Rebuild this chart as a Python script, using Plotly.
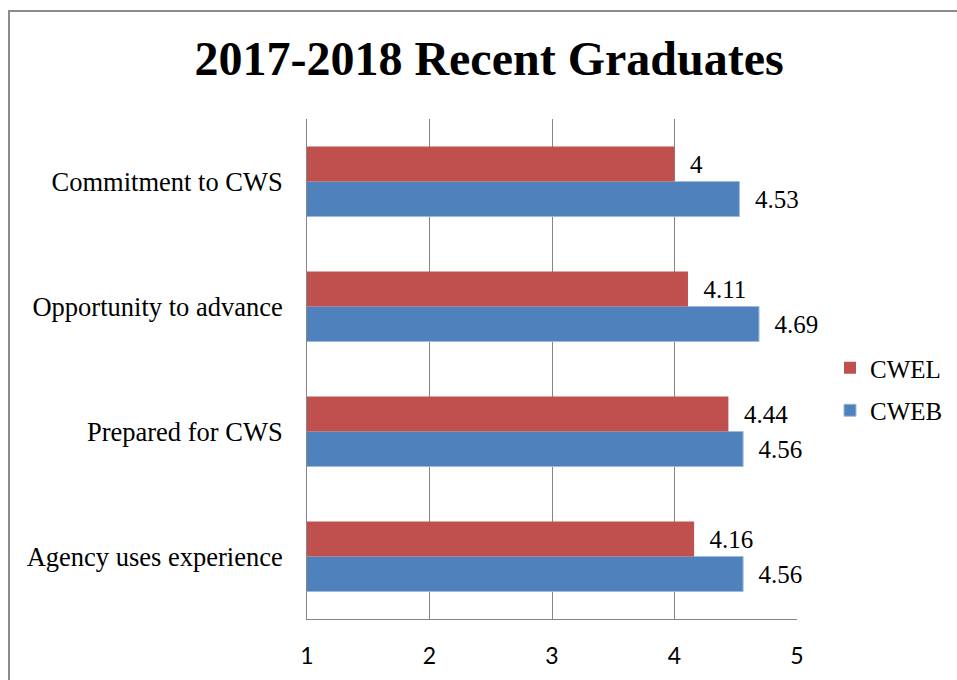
import plotly.graph_objects as go

categories = ["Agency uses experience", "Prepared for CWS", "Opportunity to advance", "Commitment to CWS"]
cweb = [4.56, 4.56, 4.69, 4.53]
cwel = [4.16, 4.44, 4.11, 4.0]
x_ticks = [1, 2, 3, 4, 5]

RED = "#C0504D"
BLUE = "#4F81BD"
SERIF = "Liberation Serif, Times New Roman, serif"

W, H = 957, 680
ML, MR, MT, MB = 307, 160, 119, 61
pw = W - ML - MR
ph = H - MT - MB

fig = go.Figure()
fig.add_trace(go.Bar(
    name="CWEB", y=categories, x=cweb, orientation="h",
    marker=dict(color=BLUE, line=dict(color="#9DB9DE", width=1)),
    texttemplate="\u00a0\u00a0%{x}", textposition="outside", cliponaxis=False,
    textfont=dict(family=SERIF, size=25, color="#000000"),
    legendgroup="b", legendrank=2,
))
fig.add_trace(go.Bar(
    name="CWEL", y=categories, x=cwel, orientation="h",
    marker=dict(color=RED, line=dict(width=0)),
    texttemplate="\u00a0\u00a0%{x}", textposition="outside", cliponaxis=False,
    textfont=dict(family=SERIF, size=25, color="#000000"),
    legendgroup="a", legendrank=1,
))

fig.update_layout(
    width=W, height=H,
    margin=dict(l=ML, r=MR, t=MT, b=MB, autoexpand=False),
    paper_bgcolor="white", plot_bgcolor="white",
    barmode="group", bargap=0.44, bargroupgap=0,
    title=dict(text="<b>2017-2018 Recent Graduates</b>", x=0.511, xanchor="center",
               y=1 - 58 / H, yanchor="middle", yref="container",
               font=dict(family=SERIF, size=48, color="#000000")),
    xaxis=dict(range=[1, 5], tickvals=x_ticks, showgrid=True, gridcolor="#868686", gridwidth=1,
               showline=True, linecolor="#868686", linewidth=1, zeroline=False,
               ticks="", ticklabelstandoff=16,
               tickfont=dict(family="Lato, Liberation Sans, sans-serif", size=23, color="#000000")),
    yaxis=dict(categoryorder="array", categoryarray=categories, showline=True,
               linecolor="#868686", linewidth=1, showgrid=False, ticks="",
               ticklabelstandoff=18,
               tickfont=dict(family=SERIF, size=26.5, color="#000000")),
    legend=dict(x=(830 - ML) / pw, xanchor="left", y=(H - MB - 389) / ph, yanchor="middle",
                traceorder="grouped", tracegroupgap=7,
                font=dict(family=SERIF, size=25, color="#000000"),
                itemwidth=30, bgcolor="rgba(0,0,0,0)"),
    shapes=[dict(type="rect", xref="paper", yref="paper",
                 x0=(9 - ML) / pw, x1=(W + 20 - ML) / pw,
                 y0=(H - MB - (H + 20)) / ph, y1=(H - MB - 11) / ph,
                 line=dict(color="#8C8C8C", width=2), fillcolor="rgba(0,0,0,0)", layer="below")],
)

fig.write_html("out.html", config={"displayModeBar": False},
               post_script="document.body.style.margin='0px';document.body.style.overflow='hidden';")
